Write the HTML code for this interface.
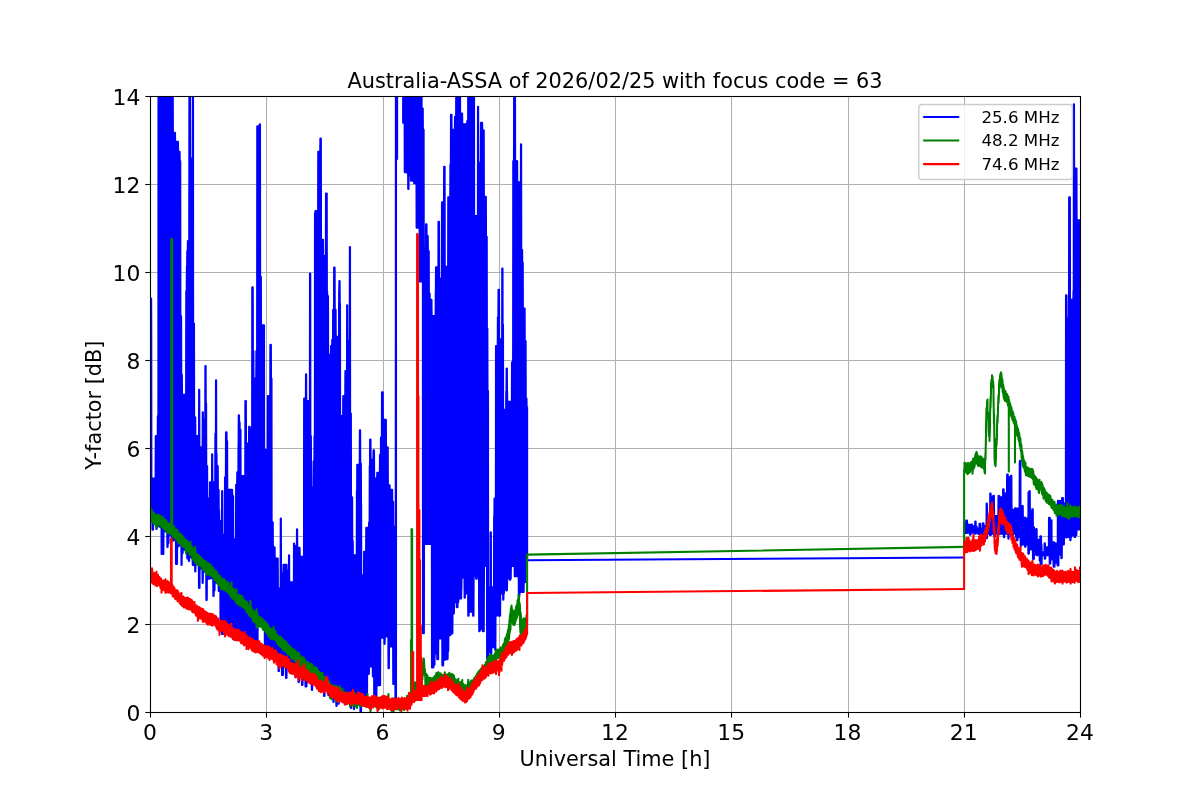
<!DOCTYPE html>
<html lang="en">
<head>
<meta charset="utf-8">
<title>Australia-ASSA of 2026/02/25 with focus code = 63</title>
<style>
html,body{margin:0;padding:0;background:#fff;}
body{width:1200px;height:800px;overflow:hidden;}
svg{display:block;}
text{font-family:"DejaVu Sans","Liberation Sans",sans-serif;fill:#000;}
.tick{font-size:21.85px;}
.lab{font-size:20.83px;}
.leg{font-size:16.67px;}
.grid line{stroke:#b0b0b0;stroke-width:1.08;}
.ticks line{stroke:#000;stroke-width:1.08;}
.series path{fill:none;stroke-width:2.08;stroke-linejoin:round;stroke-linecap:round;}
</style>
</head>
<body>
<svg width="1200" height="800" viewBox="0 0 1200 800" role="img" aria-label="Y-factor versus Universal Time">
<rect x="0" y="0" width="1200" height="800" fill="#ffffff"/>
<defs><clipPath id="ax"><rect x="150" y="96" width="930" height="616"/></clipPath></defs>
<g class="grid">
<line x1="150.5" y1="96" x2="150.5" y2="713"/>
<line x1="266.5" y1="96" x2="266.5" y2="713"/>
<line x1="383.5" y1="96" x2="383.5" y2="713"/>
<line x1="499.5" y1="96" x2="499.5" y2="713"/>
<line x1="615.5" y1="96" x2="615.5" y2="713"/>
<line x1="731.5" y1="96" x2="731.5" y2="713"/>
<line x1="848.5" y1="96" x2="848.5" y2="713"/>
<line x1="964.5" y1="96" x2="964.5" y2="713"/>
<line x1="1080.5" y1="96" x2="1080.5" y2="713"/>
<line x1="150" y1="712.5" x2="1081" y2="712.5"/>
<line x1="150" y1="624.5" x2="1081" y2="624.5"/>
<line x1="150" y1="536.5" x2="1081" y2="536.5"/>
<line x1="150" y1="448.5" x2="1081" y2="448.5"/>
<line x1="150" y1="360.5" x2="1081" y2="360.5"/>
<line x1="150" y1="272.5" x2="1081" y2="272.5"/>
<line x1="150" y1="184.5" x2="1081" y2="184.5"/>
<line x1="150" y1="96.5" x2="1081" y2="96.5"/>
</g>
<g class="series" clip-path="url(#ax)">
<g stroke="#0000ff">
<path fill="#0000ff" style="fill:#0000ff" d="M151 298.5L151.12 298.5L151.25 324.8L151.38 478.5L155.62 478.5L155.75 436L157.75 436L157.88 416L158.38 416L158.5 81L172.75 81L172.88 132.9L175 132.9L175.12 141.7L178 141.7L178.12 151.7L179.62 151.7L179.75 161L180.25 161L180.38 316L181.12 316L181.25 374.8L181.88 374.8L182 394.8L186.12 394.8L186.25 291L186.75 291L186.88 266L187.12 266L187.25 251L187.75 251L187.88 241L189.25 241L189.38 81L190 81L190.12 158.5L192.75 158.5L192.88 81L193 81L193.12 323.5L194 323.5L194.12 417.3L195.25 417.3L195.38 436L199 436L199.12 389.8L199.25 389.8L199.38 447.3L202.62 447.3L202.75 412.3L202.88 412.3L203 419.8L205.25 419.8L205.38 366L205.62 366L205.75 403.5L206.12 403.5L206.25 466L207.12 466L207.25 498.5L209.88 498.5L210 482.3L212 482.3L212.12 454.2L212.25 454.2L212.38 482.3L215.25 482.3L215.38 433.5L215.88 433.5L216 380.4L216.12 380.4L216.25 453.5L216.5 453.5L216.62 466L217.75 466L217.88 489.8L218.62 489.8L218.75 509.8L218.88 509.8L219 521L221.75 521L221.88 509.8L222 509.8L222.12 491L222.25 491L222.38 534.8L224.88 534.8L225 477.3L225.88 477.3L226 432.3L226.5 432.3L226.62 441L227.12 441L227.25 489.8L232.12 489.8L232.25 496L233.12 496L233.25 539.2L236 539.2L236.12 484.8L237.12 484.8L237.25 472.3L238.38 472.3L238.5 446L238.62 446L238.75 415.4L239 415.4L239.12 422.3L239.62 422.3L239.75 429.8L240.5 429.8L240.62 476L245.25 476L245.38 401L245.88 401L246 443.5L249 443.5L249.12 426.7L249.62 426.7L249.75 428.5L252.12 428.5L252.25 287.3L252.75 287.3L252.88 351L253.38 351L253.5 378.5L256.25 378.5L256.38 351L257.12 351L257.25 126.4L259.62 126.4L259.75 124.2L260 124.2L260.12 276.7L260.88 276.7L261 325.4L264 325.4L264.12 449.8L267.75 449.8L267.88 396L270.25 396L270.38 344.8L270.88 344.8L271 378.5L271.5 378.5L271.62 522.3L272.75 522.3L272.88 547.3L274.62 547.3L274.75 558.5L277.75 558.5L277.88 588.5L280.62 588.5L280.75 518.5L280.88 518.5L281 573.5L283.38 573.5L283.5 564.8L286.5 564.8L286.62 571L288.88 571L289 555.4L289.12 555.4L289.25 582.3L293.88 582.3L294 543.5L294.12 543.5L294.25 546L296.88 546L297 529.2L297.12 529.2L297.25 547.9L299.62 547.9L299.75 556.7L304 556.7L304.12 398.5L305.88 398.5L306 374.2L306.12 374.2L306.25 401L309.88 401L310 273.5L310.25 273.5L310.38 436L310.88 436L311 461L311.25 461L311.38 487.3L313.75 487.3L313.88 461L314.38 461L314.5 436L314.88 436L315 213.5L315.25 213.5L315.38 211L318.12 211L318.25 151.7L320.25 151.7L320.38 138.5L320.88 138.5L321 239.8L323 239.8L323.12 256L325.88 256L326 193.5L326.75 193.5L326.88 291L327.12 291L327.25 296L328 296L328.12 354.8L330.88 354.8L331 346L332.12 346L332.25 339.8L333 339.8L333.12 309.8L334 309.8L334.12 267.5L334.62 267.5L334.75 309.8L335.62 309.8L335.75 336.7L339 336.7L339.12 291L339.25 291L339.38 281L339.62 281L339.75 303.5L340 303.5L340.12 416L343.12 416L343.25 396L345.25 396L345.38 371L347 371L347.12 305.4L347.25 305.4L347.38 341L349.75 341L349.88 247L350 247L350.12 413.5L350.88 413.5L351 497.3L352.12 497.3L352.25 541L352.75 541L352.88 555.4L356.75 555.4L356.88 491L357.12 491L357.25 464.8L359.75 464.8L359.88 430.4L360.12 430.4L360.25 463.5L360.88 463.5L361 503.5L361.12 503.5L361.25 575.4L364 575.4L364.12 551.7L366.12 551.7L366.25 527.9L369 527.9L369.12 522.3L369.62 522.3L369.75 466L370 466L370.12 439.5L370.5 439.5L370.62 459.8L373.38 459.8L373.5 450.4L374 450.4L374.12 478.5L377.12 478.5L377.25 472.9L379.88 472.9L380 454.8L380.88 454.8L381 437.3L381.88 437.3L382 392.3L382.75 392.3L382.88 419.8L385.88 419.8L386 447.3L387.75 447.3L387.88 485.4L389.62 485.4L389.75 489.8L392.12 489.8L392.25 501.7L393.12 501.7L393.25 526.7L395.75 526.7L395.88 81L396 81L396 704.7L395.5 704.8L395.38 684L393.25 684L393.12 646.5L389 646.5L388.88 668.3L388.5 668.3L388.38 636.5L384.75 636.5L384.62 644L384.5 644L384.38 637.7L380.25 637.7L380.12 685.2L376.5 685.2L376.38 703.5L374.25 703.5L374.12 676.5L372.88 676.5L372.75 666.5L369 666.5L368.88 674L367.12 674L367 702.5L365.5 702.1L364 701.8L361.5 701.7L361.38 705.9L361.12 705.9L361 715L360.5 715L360.38 700.9L358.88 700.6L354.25 700.3L354.12 709L353.88 709L353.75 701.5L351.25 701.5L351.12 708L350.88 708L350.75 699.8L346 699.6L345.88 704.3L344.75 704.3L344.62 698.7L343.88 698.4L343.12 698L342.38 697.6L341.62 697.2L340.88 696.8L338.88 696.8L338.75 703.8L336.75 703.8L336.62 706L336.38 706L336.25 694.4L333.75 694.1L333.62 702L333.38 702L333.25 692.8L332.62 692.5L332 692.1L329.62 691.9L329.5 695.1L328.38 695.1L328.25 690L327.5 689.6L326.88 689.2L324.62 689.1L324.5 696L324 696L323.88 687.6L323.25 687.2L322.62 686.9L322 686.5L319.75 686.4L319.62 689.6L318.88 689.6L318.75 684.7L318.12 684.4L317.5 684L316.75 683.6L316.12 683.2L315.5 682.9L314.75 682.5L312.25 682.2L312.12 690L311.88 690L311.75 682.7L310.12 682.7L310 679.8L309.38 679.5L308.75 679.1L306.62 679L306.5 686.5L305.5 686.5L305.38 676.7L303 676.4L302.88 680L302.62 680L302.5 685L302 685L301.88 674.2L301.38 673.8L299.12 673.7L299 682L298.5 682L298.38 671.7L296.12 671.5L296 677.1L295.38 677.1L295.25 669.5L294.62 669.2L294 668.8L293.38 668.5L292.75 668.1L290.75 668.1L290.62 669.8L289.62 669.8L289.5 666.3L288.88 666L286.62 665.8L286.5 678L286 678L285.88 664.3L285.25 663.9L283.12 663.9L283 675L282 675L281.88 662.7L279.12 662.7L279 671L278.5 671L278.38 659.7L277.75 659.3L275.38 659L275.25 660.7L274.75 660.7L274.62 657.3L274 656.9L273.38 656.5L272.75 656.1L272.12 655.7L271.5 655.3L270.88 654.9L270.25 654.5L269.62 654.1L269 653.7L268.38 653.3L267.75 652.9L267.12 652.5L266.5 652.1L265.88 651.7L265.25 651.3L264.88 651L264.75 626L257.62 626L257.5 646.4L256.75 646.1L256 645.7L255.25 645.3L254.5 644.9L252.38 644.8L252.25 645.3L251.75 645.3L251.62 643.4L250.88 643L250.12 642.6L247.88 642.5L247.75 646L247.25 646L247.12 644.9L246 644.9L245.88 640.4L245.12 640L244.38 639.7L243.62 639.3L242.88 639L240.5 638.8L240.38 639.1L239.88 639.1L239.75 637.5L239 637.1L238.25 636.7L237.5 636.4L235.5 636.4L235.38 639.8L234.25 639.8L234.12 634.8L233.38 634.4L232.75 634L232.12 633.6L229.62 633.3L229.5 635.8L228.75 635.8L228.62 631.5L228 631.2L227.38 630.8L226.75 630.4L226.12 630L225.5 629.7L223.12 629.4L223 633.9L222 633.9L221.88 627.5L221.25 627.1L220.62 626.7L220.5 626.6L220.38 590.9L218.75 590.9L218.62 584.3L218.12 583.8L217.62 583.3L217.12 582.9L216.62 582.4L214.62 582.4L214.5 590.6L213.75 590.6L213.62 596L213.38 596L213.25 579.3L212.75 578.8L212.25 578.4L211.75 577.9L209.62 577.8L209.5 578.8L206.88 578.8L206.75 600L206.38 600L206.25 572.7L205.88 572.3L205.5 572L205.12 571.6L203.12 571.6L203 572.7L202.88 572.7L202.75 583L202.62 583L202.5 572.7L202.38 568.8L202 568.5L199.75 568.2L199.62 569.3L199.5 588L199 588L198.88 569.3L198.75 565.2L198.38 564.8L198 564.5L197.62 564.1L195.5 564L195.38 571.5L195.25 571.5L195.12 564.9L192.75 564.9L192.62 558.6L192.25 558.1L191.88 557.7L191.5 557.3L189.25 557L189.12 561L188.88 561L188.75 558.5L187.25 558.5L187.12 552.2L186.75 551.8L186.38 551.4L186 550.9L185.62 550.5L185.25 550.1L184.88 549.6L182.75 549.5L182.62 553.3L181.75 553.3L181.62 565L181.5 565L181.38 545.8L181 545.5L180.62 545.1L178.62 545.1L178.5 546.3L177.12 546.3L177 564L176 564L175.88 540.3L175.5 540L173.38 539.8L173.25 540.6L172 540.6L171.88 536.3L171.5 536L171.12 535.6L170.62 535.2L168.62 535.2L168.5 543.1L167.75 543.1L167.62 547L167.38 547L167.25 532.5L166.75 532.1L166.25 531.7L165.75 531.3L163.5 531.1L163.38 554L161.62 554L161.5 527.9L161 527.5L160.38 527L159.75 526.6L159.12 526.2L156.75 525.9L156.62 528.9L156.38 528.9L156.25 524.2L155.62 523.8L153.12 523.4L153 529.8L152.5 529.8L152.38 521.6L151.75 521.1L151 521ZM403.12 81L421.5 81L421.62 108.5L422.75 108.5L422.88 129.8L423.62 129.8L423.75 248.5L425.88 248.5L426 224.2L426.5 224.2L426.62 236L427.75 236L427.88 251L428.75 251L428.88 293.5L429.62 293.5L429.75 299.8L431.5 299.8L431.62 316L435.62 316L435.75 291L435.88 291L436 267.3L438.38 267.3L438.5 221.7L439 221.7L439.12 278.5L441.88 278.5L442 202.3L444 202.3L444.12 166.7L444.62 166.7L444.75 266.7L448.12 266.7L448.25 197.3L450.25 197.3L450.38 164.8L450.88 164.8L451 114.8L451.5 114.8L451.62 129.8L454.88 129.8L455 116.7L456.12 116.7L456.25 81L460 81L460.12 113.5L462.12 113.5L462.25 124.2L467.12 124.2L467.25 121L468.12 121L468.25 81L474 81L474.12 216L477.88 216L478 106.7L478.12 106.7L478.25 162.9L480.88 162.9L481 122.9L482.12 122.9L482.25 130.4L483.75 130.4L483.88 196.7L485.88 196.7L486 236.7L486.75 236.7L486.88 328.5L487.38 328.5L487.5 391L488 391L488.12 587.3L490.5 587.3L490.62 532.3L490.88 532.3L491 587.3L494 587.3L494.12 516L494.38 516L494.5 498.5L495.88 498.5L496 346L497.75 346L497.88 317.3L498.38 317.3L498.5 289.8L499 289.8L499.12 339.2L502.12 339.2L502.25 268.5L502.5 268.5L502.62 324.8L503 324.8L503.12 409.8L506.12 409.8L506.25 391L506.5 391L506.62 368.5L506.88 368.5L507 391L507.12 391L507.25 401.7L511.88 401.7L512 362.3L513.12 362.3L513.25 161L514 161L514.12 81L515 81L515.12 161L517.12 161L517.25 182.3L520.88 182.3L521 144.2L521.12 144.2L521.25 249.8L522.12 249.8L522.25 262.9L522.75 262.9L522.88 308.5L524.62 308.5L524.75 341L525.62 341L525.75 398.5L526.5 398.5L526.62 407.3L527.12 407.3L527.12 561L525.25 561L525.12 582.2L523.75 582.2L523.62 591.9L519.5 591.6L519.38 596.2L518.88 596.2L518.75 576L514.75 576.3L514.62 566L510.88 566L510.75 578.5L510.38 578.5L510.25 579.8L509.88 579.8L509.75 578.5L507.12 578.5L507 588.5L506.88 590.4L506.25 590.4L506.12 588.5L504 588.5L503.88 593.5L503.5 593.5L503.38 599.7L503.25 599.7L503.12 593.5L500.25 593.5L500.12 615.7L495.5 615.3L495.38 649.7L495.25 649.7L495.12 647.2L491.38 647.2L491.25 655.7L490.88 655.7L490.75 652.2L488.12 652.2L488 658.8L487.12 658.8L487 566L484 566L483.88 594.7L483.75 631.2L482.88 631.2L482.75 629.1L479.75 629.1L479.62 631.3L479.25 631.3L479.12 612.2L479 576L476.88 576L476.75 578.8L476.12 578.8L476 576L473.62 576L473.5 615.8L473 615.8L472.88 611.6L468.75 611.6L468.62 615.8L468.25 615.8L468.12 593.5L465 593.5L464.88 597.7L464.62 597.7L464.5 577.8L461.5 577.8L461.38 589.7L461.25 589.7L461.12 598.5L458.38 598.5L458.25 602.2L457.62 602.2L457.5 607.3L456.75 607.3L456.62 602.2L454 602.2L453.88 613.5L452.5 613.5L452.38 633.5L450.5 633.5L450.38 635.2L448.38 635.2L448.25 651L447.75 651L447.62 659.1L445.25 659.1L445.12 659.7L443.25 659.7L443.12 665.4L442.38 665.4L442.25 638.5L438.25 638.5L438.12 659.3L437.25 659.3L437.12 653.5L434.62 653.5L434.5 664.7L433.5 664.7L433.38 667.5L432 667.5L431.88 544L424 544L423.88 633.3L423 633.3L422.88 281.5L419.75 281.5L419.62 227.7L416.62 227.7L416.5 183.3L414.12 183.3L414 180.8L411 180.8L410.88 175.2L408.62 175.2L408.5 189L408.25 189L408.12 174L407.88 174L407.75 172.1L404.75 172.1L404.62 122.7L403.12 122.7ZM964.5 522.3L966.12 522.3L966.25 520.6L967 520.6L967.12 524.8L971.12 524.8L971.25 524.6L972 524.6L972.12 526.3L975.12 526.3L975.25 521.5L975.62 521.5L975.75 526.3L976.5 526.3L976.62 528.5L979.38 528.5L979.5 523.9L980.38 523.9L980.5 528.5L982.88 528.5L983 523.4L983.5 523.4L983.62 526L986.5 526L986.62 503.6L986.88 503.6L987 508.5L987.12 508.5L987.25 518.5L990.12 518.5L990.25 493.6L990.62 493.6L990.75 497.3L993.12 497.3L993.25 495.8L993.88 495.8L994 508.5L994.12 516L998.38 516L998.5 496.1L999.38 496.1L999.5 497.3L1003 497.3L1003.12 489.3L1003.62 489.3L1003.75 493.5L1007 493.5L1007.12 474.5L1007.75 474.5L1007.88 477.3L1010.75 477.3L1010.88 475.8L1011.38 475.8L1011.5 501L1011.62 509.8L1014.88 509.8L1015 508.3L1015.88 508.3L1016 508.5L1019.62 508.5L1019.75 461.7L1019.88 461.7L1020 460.8L1020.38 460.8L1020.5 506L1022.75 506L1022.88 518.5L1024.88 518.5L1025 517.5L1025.25 517.5L1025.38 518.5L1028.38 518.5L1028.5 492.3L1029.38 492.3L1029.5 491L1029.75 491L1029.88 512.3L1032.12 512.3L1032.25 509.2L1032.75 509.2L1032.88 527.3L1034 527.3L1034.12 529.8L1036.12 529.8L1036.25 529L1036.62 529L1036.75 539.8L1040.25 539.8L1040.38 536.4L1041 536.4L1041.12 544.8L1041.5 544.8L1041.62 552.3L1044.5 552.3L1044.62 543.2L1044.88 543.2L1045 547.3L1048.88 547.3L1049 517.9L1049.75 517.9L1049.88 520.4L1051.5 520.4L1051.62 542.3L1054.25 542.3L1054.38 543.5L1057.75 543.5L1057.88 500.9L1058.12 500.9L1058.25 501L1062 501L1062.12 498.1L1063 498.1L1063.12 503.5L1065.88 503.5L1066 295.4L1066.5 295.4L1066.62 318.5L1069 318.5L1069.12 197.3L1069.88 197.3L1070 299.8L1073.38 299.8L1073.5 291L1073.75 291L1073.88 104.2L1074 104.2L1074.12 168.5L1076.5 168.5L1076.62 220.4L1079.62 220.4L1079.62 529.5L1076.5 529.5L1076.38 535.1L1075.38 535.1L1075.25 537L1074.5 537L1074.38 535.1L1071.5 535.1L1071.38 537L1070.62 537L1070.5 540.3L1070.25 540.3L1070.12 537L1066.88 537L1066.75 537.4L1066.12 537.4L1066 537L1064 537L1063.88 544.5L1061.88 544.5L1061.75 558.1L1061.38 558.1L1061.25 554.5L1058.5 554.5L1058.38 565.4L1057.62 565.4L1057.5 562.6L1054.62 562.6L1054.5 566.7L1053.62 566.7L1053.5 559.5L1050.38 559.5L1050.25 563.6L1049.75 563.6L1049.62 555.1L1045.38 555.1L1045.25 558.6L1044.75 558.6L1044.62 555.1L1041.75 555.1L1041.62 564.1L1040.62 564.1L1040.5 560.7L1039.75 560.7L1039.62 554.5L1037.62 554.5L1037.5 555.2L1037 555.2L1036.88 554.5L1034 554.5L1033.88 559L1033 559L1032.88 549.5L1029 549.5L1028.88 553.8L1028.38 553.8L1028.25 544.5L1025.62 544.5L1025.5 546.6L1025 546.6L1024.88 544.5L1021 544.5L1020.88 546.2L1020.75 546.2L1020.62 537L1017.62 537L1017.5 540.2L1016.75 540.2L1016.62 537L1016 537L1015.88 533.8L1012.88 533.8L1012.75 538.8L1012.25 538.8L1012.12 533.8L1008.75 533.8L1008.62 538.8L1008.38 538.8L1008.25 533.8L1004.38 533.8L1004.25 537.1L1003.88 537.1L1003.75 533.8L999.75 533.8L999.62 534.2L999.12 534.2L999 533.8L995.12 533.8L995 536.4L994.12 536.4L994 533.8L991 533.8L990.88 534.9L989.88 534.9L989.75 533.8L987.12 533.8L987 538.1L986.62 538.1L986.5 533.8L984 533.8L983.88 535.8L983.5 535.8L983.38 533.8L978.38 534L978.25 532.6L975.62 532.6L975.5 533.8L975 533.8L974.88 532.6L970.75 532.6L970.62 534.6L970 534.6L969.88 532.6L967.25 532.6L967.12 533L964.5 533ZM396.04 80L397.08 80L397.08 159L396.04 159Z"/>
<path stroke-linecap="butt" d="M527.2 560.3L964.1 557.5"/>
</g>
<g stroke="#008000">
<path d="M150.5 508.4L150.5 517.6L151 516.7L151 508.3L151.5 510.5L151.5 517.8L152 520.2L152 510.9L152.5 512.2L152.5 520.7L153 522.4L153 512.9L153.5 512.7L153.5 522.2L154 524.1L154 513.5L154.5 514L154.5 523.2L155 523.6L155 515.8L155.5 515.7L155.5 525L156 523.8L156 517.1L156.5 515.3L156.5 527.9L157 524.3L157 517L157.5 517.1L157.5 524.1L158 524L158 515L158.5 514.9L158.5 522.8L159 523.3L159 516.5L159.5 515.6L159.5 525.4L160 524.3L160 516L160.5 517.8L160.5 525.6L161 526.2L161 516.5L161.5 516.3L161.5 524.7L162 527L162 518.7L162.5 517L162.5 526L163 527.6L163 519.5L163.5 518.7L163.5 527L164 529.3L164 518.7L164.5 519.9L164.5 528.2L165 529.5L165 521.4L165.5 522.9L165.5 530.7L166 530.2L166 520.4L166.5 522.2L166.5 529L167 529.8L167 523.3L167.5 523.7L167.5 533.3L168 532.3L168 523.5L168.5 524.6L168.5 531.3L169 532.2L169 525.6L169.5 523.5L169.5 531.2L170 533.8L170 523.6L170.5 524.4L170.5 532.7L171 534.3L171 526.8L171.5 526.7L171.5 534.5L172 533.3L172 527.3L172.5 526.9L172.5 533.4L173 536.5L173 527.4L173.5 526L173.5 536.4L174 535.6L174 527.3L174.5 527.8L174.5 535L175 537.9L175 529.1L175.5 530.1L175.5 536.9L176 539.5L176 529.4L176.5 531.7L176.5 538.2L177 538.8L177 530L177.5 530.6L177.5 539.4L178 542.4L178 532L178.5 533.7L178.5 540.8L179 541.6L179 534.5L179.5 533.6L179.5 543.2L180 543.1L180 535.6L180.5 534.1L180.5 544.2L181 543.5L181 536.5L181.5 535.9L181.5 543.9L182 546.1L182 535.4L182.5 538L182.5 544.7L183 545.5L183 538.7L183.5 537.2L183.5 547.1L184 547L184 539.7L184.5 539.9L184.5 546.2L185 547.1L185 539.4L185.5 541L185.5 547.3L186 553.4L186 541.6L186.5 540.2L186.5 548.2L187 548.6L187 541.8L187.5 541.3L187.5 551.2L188 550.8L188 542.1L188.5 545.1L188.5 550.9L189 551.6L189 543.9L189.5 544.2L189.5 554.6L190 552.9L190 546L190.5 541.6L190.5 554.5L191 553.8L191 547.9L191.5 546.4L191.5 555.4L192 556.3L192 546.4L192.5 549.8L192.5 559.4L193 559L193 549.5L193.5 549.3L193.5 558.8L194 560.3L194 552.6L194.5 553.2L194.5 559.6L195 561.9L195 546.8L195.5 552.6L195.5 561.3L196 563.4L196 553.6L196.5 554L196.5 563.8L197 562.8L197 554.3L197.5 556.3L197.5 563.6L198 565.3L198 554.6L198.5 555.3L198.5 564.5L199 565.5L199 556.6L199.5 556.2L199.5 565.6L200 565.1L200 557.3L200.5 557.7L200.5 564.8L201 566.3L201 557.4L201.5 560.2L201.5 566.7L202 567L202 560.1L202.5 559.3L202.5 569.6L203 569L203 559.9L203.5 560L203.5 569.4L204 568.8L204 560.8L204.5 561.1L204.5 570.6L205 569L205 560.9L205.5 561.8L205.5 571.9L206 570.4L206 562.3L206.5 562L206.5 571.2L207 574.8L207 563.4L207.5 564.6L207.5 570.6L208 573.7L208 564.6L208.5 563.3L208.5 573.3L209 574.7L209 565L209.5 565.9L209.5 573.2L210 574.1L210 564.4L210.5 567.2L210.5 575.5L211 575.1L211 565.7L211.5 566L211.5 575.7L212 574.8L212 568.7L212.5 570.1L212.5 576.8L213 577.4L213 567.7L213.5 569.3L213.5 577.1L214 578.4L214 571L214.5 570.3L214.5 580.3L215 578.2L215 570.3L215.5 571.6L215.5 578.9L216 580.7L216 573.4L216.5 571.2L216.5 581.2L217 582.1L217 574.3L217.5 573.3L217.5 583.8L218 582L218 575.9L218.5 575.1L218.5 584.3L219 585.2L219 577.2L219.5 576L219.5 584.1L220 585L220 578.3L220.5 576.5L220.5 584.3L221 589.1L221 578.2L221.5 578.9L221.5 588L222 588.1L222 579.8L222.5 579.7L222.5 589.2L223 589.5L223 580.7L223.5 579.1L223.5 587.2L224 587.8L224 579.7L224.5 579.6L224.5 590L225 590.2L225 580.9L225.5 581.3L225.5 590.5L226 590.7L226 582.1L226.5 583.4L226.5 589.4L227 591.5L227 582.7L227.5 582.2L227.5 591.6L228 591.9L228 583.7L228.5 583L228.5 593.3L229 592.8L229 586.7L229.5 587.1L229.5 594L230 593.3L230 586.9L230.5 586.4L230.5 596.6L231 596.7L231 585.9L231.5 582.3L231.5 597.3L232 597.8L232 587.9L232.5 589.1L232.5 598.2L233 598.5L233 589.7L233.5 588.7L233.5 599.2L234 597.2L234 589.9L234.5 590.3L234.5 598.4L235 598.5L235 590.2L235.5 592.1L235.5 601.4L236 599.8L236 592.3L236.5 589.2L236.5 602.5L237 603.6L237 594.9L237.5 595.6L237.5 601.7L238 604L238 596.6L238.5 595.4L238.5 603.3L239 605.1L239 595L239.5 595.2L239.5 603.7L240 605.5L240 595.2L240.5 597.3L240.5 603.6L241 603.7L241 597.8L241.5 595.9L241.5 605.3L242 606.6L242 596L242.5 597.6L242.5 604.3L243 606.4L243 599.6L243.5 599.2L243.5 607.7L244 607.2L244 600.2L244.5 600.8L244.5 607.6L245 608.3L245 602.3L245.5 602L245.5 609.3L246 610L246 601.6L246.5 603.1L246.5 611.9L247 610.5L247 602.3L247.5 604.7L247.5 612.7L248 611.7L248 606L248.5 606.1L248.5 612.4L249 615.5L249 606.3L249.5 605.6L249.5 615.5L250 615.7L250 606.6L250.5 600.9L250.5 616.2L251 617L251 607L251.5 609.2L251.5 616.5L252 617.4L252 610.3L252.5 611.1L252.5 618.3L253 621.4L253 610.2L253.5 610.8L253.5 617.9L254 619.7L254 612.7L254.5 612.4L254.5 622.1L255 620.9L255 611.9L255.5 614.8L255.5 622.5L256 621.5L256 613.7L256.5 609.3L256.5 627.8L257 623.3L257 614.4L257.5 613.6L257.5 623.1L258 622.3L258 616.8L258.5 616.6L258.5 625.4L259 623.9L259 617.6L259.5 617.7L259.5 624.1L260 626.6L260 618L260.5 617.3L260.5 626.8L261 626.7L261 617.7L261.5 618.5L261.5 626.6L262 627.1L262 619.8L262.5 619.3L262.5 628.3L263 629.6L263 620L263.5 620.1L263.5 629.1L264 630L264 620.8L264.5 621.8L264.5 630.2L265 630.5L265 623.9L265.5 622L265.5 631L266 632.1L266 623.8L266.5 623.2L266.5 632.9L267 632.4L267 626.5L267.5 626.6L267.5 633.2L268 634.4L268 624.9L268.5 627.8L268.5 636.4L269 635.6L269 628.1L269.5 627.9L269.5 635.3L270 636.5L270 629.7L270.5 631.2L270.5 638.9L271 637.4L271 628.7L271.5 631L271.5 637.6L272 638.6L272 630L272.5 630.9L272.5 639.1L273 638.3L273 630.7L273.5 627L273.5 638.4L274 638.8L274 630.1L274.5 631.1L274.5 639.4L275 639.8L275 632.3L275.5 631.5L275.5 639.5L276 640.8L276 634L276.5 634.6L276.5 640.1L277 641.8L277 635L277.5 635.8L277.5 643.9L278 642L278 636.8L278.5 636.5L278.5 643.7L279 645.1L279 636.8L279.5 637.7L279.5 644.3L280 646.5L280 636.3L280.5 639.3L280.5 647L281 647.1L281 637.1L281.5 640.4L281.5 646.2L282 648.2L282 639.3L282.5 638.8L282.5 649L283 647.5L283 640.1L283.5 641.7L283.5 649.8L284 650.9L284 640.3L284.5 643L284.5 650.3L285 649.9L285 642.1L285.5 641.3L285.5 649.4L286 651.5L286 642.4L286.5 642.3L286.5 651.4L287 652.7L287 644.1L287.5 644.9L287.5 653.8L288 652.2L288 644.6L288.5 647.2L288.5 654.8L289 653.7L289 645.9L289.5 648.2L289.5 654.9L290 654.9L290 646.5L290.5 650.1L290.5 655.3L291 657.1L291 647.6L291.5 650.4L291.5 657.6L292 659.1L292 650.1L292.5 651.4L292.5 658.4L293 657.5L293 648.9L293.5 650.4L293.5 658L294 658.3L294 652.5L294.5 650.4L294.5 660.7L295 659.7L295 650.5L295.5 653.2L295.5 658.9L296 661.9L296 652.8L296.5 653.3L296.5 660.5L297 662.6L297 652.5L297.5 652.4L297.5 662.1L298 662.7L298 652.7L298.5 654.9L298.5 664.9L299 664L299 653.4L299.5 655.2L299.5 662.4L300 663.9L300 656.7L300.5 656.1L300.5 665.8L301 663.4L301 657.7L301.5 657.9L301.5 664L302 665.4L302 659.1L302.5 659.4L302.5 666.1L303 667.3L303 659.9L303.5 656.8L303.5 667.6L304 669.5L304 659.3L304.5 659L304.5 668.5L305 668.6L305 659.9L305.5 662.4L305.5 670.8L306 670.2L306 663.5L306.5 662.4L306.5 671.5L307 669.7L307 663.4L307.5 662.4L307.5 672.5L308 672.2L308 662.4L308.5 662.5L308.5 671.9L309 673.7L309 664.1L309.5 665.1L309.5 671.2L310 672L310 664.2L310.5 664.6L310.5 676.3L311 672.6L311 663.8L311.5 666.7L311.5 674.2L312 672.7L312 664.9L312.5 665L312.5 674.8L313 673.9L313 667.1L313.5 667.5L313.5 674L314 675.6L314 668.1L314.5 667L314.5 676.2L315 677.2L315 668.3L315.5 669.2L315.5 676.6L316 677.8L316 667.5L316.5 668.6L316.5 678.9L317 677.6L317 668.5L317.5 670.5L317.5 677.6L318 678.7L318 670.8L318.5 672.2L318.5 678.9L319 680.6L319 671.5L319.5 673.8L319.5 681.2L320 682.1L320 673.3L320.5 674.1L320.5 681.4L321 682.7L321 672.9L321.5 675.1L321.5 683L322 684.4L322 674.8L322.5 673.1L322.5 683.4L323 683.2L323 676L323.5 676.7L323.5 685.5L324 685.9L324 678.1L324.5 678.5L324.5 687.1L325 684.8L325 677.4L325.5 678.6L325.5 686.7L326 687.3L326 678.1L326.5 679.4L326.5 687.5L327 688L327 681.6L327.5 681.4L327.5 687.5L328 689.2L328 680.8L328.5 682.7L328.5 691.6L329 692.1L329 681.3L329.5 683.6L329.5 690.5L330 697.9L330 684.1L330.5 686.2L330.5 693.6L331 692.2L331 686L331.5 685.4L331.5 699.2L332 695.2L332 685.5L332.5 685.6L332.5 694.6L333 696.3L333 687.2L333.5 685.6L333.5 695.7L334 694.1L334 686.9L334.5 688.7L334.5 694.1L335 695.6L335 687.1L335.5 686L335.5 696.2L336 701.1L336 688.6L336.5 686.2L336.5 694.6L337 694.7L337 687.8L337.5 688.8L337.5 696.1L338 698.2L338 687L338.5 688.9L338.5 696.4L339 695L339 688.2L339.5 686.3L339.5 696.8L340 696.5L340 689.4L340.5 688.5L340.5 698L341 698.8L341 688.4L341.5 690.1L341.5 696.6L342 699.2L342 689.5L342.5 689.4L342.5 699.5L343 698.2L343 692.5L343.5 692.7L343.5 700L344 699.8L344 691.8L344.5 692.9L344.5 699.3L345 702.2L345 694.1L345.5 692.2L345.5 702.2L346 702L346 694.4L346.5 693.6L346.5 702.5L347 701.2L347 693.2L347.5 693.1L347.5 701.8L348 701.1L348 693.1L348.5 693.7L348.5 702.1L349 700.8L349 693.8L349.5 694.5L349.5 702.4L350 706.5L350 695.6L350.5 695.3L350.5 703.4L351 702.7L351 694L351.5 695.6L351.5 703L352 703.8L352 694.9L352.5 694.5L352.5 705.3L353 704.7L353 697.5L353.5 697L353.5 704L354 705.3L354 698L354.5 698.1L354.5 706.2L355 706.4L355 693L355.5 698.3L355.5 704.1L356 706.3L356 697L356.5 696.2L356.5 705.1L357 707.9L357 696.9L357.5 695.6L357.5 705.9L358 703.2L358 696.7L358.5 695L358.5 704.5L359 703.4L359 697.6L359.5 696.6L359.5 704.3L360 703.3L360 696.8L360.5 696.4L360.5 705.9L361 705.9L361 697.4L361.5 696.6L361.5 703.8L362 705.2L362 697.4L362.5 697.8L362.5 705.1L363 704.5L363 696.3L363.5 696.8L363.5 705.5L364 704.9L364 696.7L364.5 697.3L364.5 706L365 705.1L365 698.6L365.5 699.5L365.5 705L366 706.6L366 699.5L366.5 696.8L366.5 707L367 705.3L367 696.7L367.5 694.1L367.5 704.9L368 705.3L368 697.4L368.5 698.9L368.5 706L369 707.8L369 698.2L369.5 698.1L369.5 706.3L370 708.2L370 699.7L370.5 698.6L370.5 711.5L371 705.3L371 697.8L371.5 699.9L371.5 706.1L372 706.3L372 698.2L372.5 698L372.5 706.6L373 707.1L373 698L373.5 697.2L373.5 705.5L374 705.4L374 698.5L374.5 696.9L374.5 705.5L375 705.4L375 699.3L375.5 698.6L375.5 706.6L376 706.9L376 698.8L376.5 698.4L376.5 707.5L377 706.5L377 699.4L377.5 697.5L377.5 708.2L378 709.3L378 701.5L378.5 699L378.5 709.8L379 707.5L379 700.8L379.5 699.5L379.5 706.3L380 706.6L380 698.6L380.5 697.8L380.5 706.1L381 705.7L381 698.9L381.5 698.7L381.5 705.1L382 704.9L382 697.3L382.5 696.4L382.5 707.6L383 707.6L383 699.4L383.5 697.4L383.5 705L384 705.4L384 699.3L384.5 699.2L384.5 705.2L385 706.7L385 699L385.5 700.3L385.5 705.8L386 706.5L386 698.4L386.5 700.1L386.5 705.8L387 706.2L387 699.9L387.5 699.7L387.5 706.5L388 707.1L388 698.1L388.5 694.1L388.5 706.3L389 707.5L389 699.2L389.5 700.1L389.5 708L390 707.4L390 700.3L390.5 701.7L390.5 709.3L391 708.4L391 699.8L391.5 699.8L391.5 708.9L392 712.5L392 699.9L392.5 701.1L392.5 709.3L393 709.2L393 700.3L393.5 700.4L393.5 712L394 707.5L394 700.3L394.5 698.4L394.5 706.3L395 708.2L395 700.6L395.5 699.5L395.5 709.1L396 709.3L396 699L396.5 701L396.5 707.5L397 708.1L397 701.3L397.5 699.9L397.5 708.6L398 708.7L398 702.5L398.5 700.6L398.5 708.5L399 709.7L399 702.5L399.5 700.5L399.5 710.1L400 710.5L400 701.4L400.5 699.7L400.5 710.6L401 708.3L401 700.1L401.5 700.2L401.5 708.4L402 708.4L402 699.5L402.5 700.8L402.5 708.3L403 709L403 699.5L403.5 702L403.5 708.3L404 710L404 699.4L404.5 701.7L404.5 708.9L405 708L405 700.5L405.5 699.8L405.5 707.2L406 708.7L406 701.2L406.5 698.7L406.5 707.9L407 709L407 695.8L407.5 699.3L407.5 706.4L408 708.2L408 697.9L408.5 699.1L408.5 706.8L409 707.6L409 693.1L409.5 699.7L409.5 705.6L410 706.7L410 698.8"/>
<path d="M413.3 683L413.3 691L413.8 690.4L413.8 682.7L414.3 682.6L414.3 692.2L414.8 690.8L414.8 682.6L415.3 683.9L415.3 690.9L415.8 691.6L415.8 684L416.3 682L416.3 690.3L416.8 690.1L416.8 682.6L417.3 683.5L417.3 690.5L417.8 691.4L417.8 682.2L418.3 682.8L418.3 689.6L418.8 689.7L418.8 682L419.3 683.1L419.3 690.3L419.8 691.7L419.8 682.2L420.3 681.8L420.3 689.9L420.8 690.2L420.8 683.8L421.3 683.6L421.3 691.5L421.8 686.9L421.8 679.5L422.3 673.5L422.3 679.7L422.8 672.4L422.8 665.4L423.3 661.2L423.3 667.6L423.8 665.6L423.8 658.6L424.3 664.6L424.3 670.1L424.8 675.3L424.8 669.1L425.3 674L425.3 681.6L425.8 687.3L425.8 677.6L426.3 674.1L426.3 686.3L426.8 685.5L426.8 679.2L427.3 675.3L427.3 687.3L427.8 684.8L427.8 679.2L428.3 678.5L428.3 686.1L428.8 689.1L428.8 678L429.3 677.5L429.3 685.6L429.8 687.2L429.8 679.1L430.3 678L430.3 684.8L430.8 685.1L430.8 679.3L431.3 678.3L431.3 687.5L431.8 687.7L431.8 679.4L432.3 678.3L432.3 686.8L432.8 686.1L432.8 680.4L433.3 678.2L433.3 685.8L433.8 687L433.8 677.3L434.3 678.5L434.3 683.7L434.8 685.7L434.8 675.9L435.3 675.7L435.3 682.5L435.8 682L435.8 675.9L436.3 673.2L436.3 683L436.8 682.4L436.8 672.8L437.3 673.3L437.3 679.6L437.8 680.7L437.8 672.8L438.3 672.2L438.3 679.8L438.8 680.1L438.8 674.8L439.3 673.5L439.3 680.8L439.8 687L439.8 673.3L440.3 674.8L440.3 680.6L440.8 682.2L440.8 673.5L441.3 676.4L441.3 682.3L441.8 683.6L441.8 676.6L442.3 675.6L442.3 683.1L442.8 682.6L442.8 675.1L443.3 676.5L443.3 683.7L443.8 683.6L443.8 674.8L444.3 676.5L444.3 681.4L444.8 683L444.8 672.2L445.3 675.1L445.3 682.4L445.8 682.8L445.8 675.5L446.3 675L446.3 682.4L446.8 681.7L446.8 675.5L447.3 675.5L447.3 682.5L447.8 682.9L447.8 674.3L448.3 675.4L448.3 680.5L448.8 680.7L448.8 675.2L449.3 672.7L449.3 681.9L449.8 682.5L449.8 674.4L450.3 674.3L450.3 682.6L450.8 682.8L450.8 675.4L451.3 676L451.3 682.6L451.8 682.9L451.8 673.7L452.3 676.5L452.3 683.6L452.8 683.3L452.8 674.7L453.3 677.6L453.3 683.1L453.8 684L453.8 675.3L454.3 678.3L454.3 683.9L454.8 684.8L454.8 678.9L455.3 680.3L455.3 686.4L455.8 688.3L455.8 679.5L456.3 680L456.3 688.3L456.8 690.1L456.8 681.6L457.3 682.3L457.3 691.4L457.8 691L457.8 683L458.3 678.8L458.3 691.7L458.8 690.1L458.8 683.7L459.3 682.5L459.3 691.1L459.8 690.4L459.8 683.8L460.3 682.3L460.3 689.6L460.8 689.7L460.8 683.4L461.3 681.9L461.3 689.3L461.8 692.1L461.8 683.3L462.3 680L462.3 692.4L462.8 692.7L462.8 683.5L463.3 684.3L463.3 693.8L463.8 693.1L463.8 684.6L464.3 686.1L464.3 694.5L464.8 694L464.8 688L465.3 685L465.3 696.2L465.8 695.4L465.8 687.8L466.3 686.3L466.3 692.5L466.8 697.1L466.8 685.6L467.3 685.9L467.3 692L467.8 692.1L467.8 685.4L468.3 679.7L468.3 690.2L468.8 690.4L468.8 683.3L469.3 682.5L469.3 689.3L469.8 689.4L469.8 682.6L470.3 682.2L470.3 690.6L470.8 691.5L470.8 683.2L471.3 680.5L471.3 690.6L471.8 693.5L471.8 681.2L472.3 681.5L472.3 688.9L472.8 686.9L472.8 681L473.3 679.8L473.3 687.1L473.8 686.5L473.8 679.6L474.3 678L474.3 686.3L474.8 686.5L474.8 677.6L475.3 677.5L475.3 684.4L475.8 684.9L475.8 676.8L476.3 675.2L476.3 683.5L476.8 683.2L476.8 675.2L477.3 673.6L477.3 679.9L477.8 679.9L477.8 673.1L478.3 672L478.3 679.7L478.8 680.4L478.8 672L479.3 670.6L479.3 678.1L479.8 677.7L479.8 670.9L480.3 671.6L480.3 676.7L480.8 677.4L480.8 669.1L481.3 669.6L481.3 676.3L481.8 677.7L481.8 667.8L482.3 667.6L482.3 675.7L482.8 675.9L482.8 667.1L483.3 666.1L483.3 673.5L483.8 674.1L483.8 666.7L484.3 666.4L484.3 672.5L484.8 673.2L484.8 664.9L485.3 664.9L485.3 672L485.8 670.4L485.8 662.3L486.3 663.4L486.3 668.8L486.8 673.3L486.8 662.6L487.3 659.7L487.3 668.3L487.8 667.9L487.8 657.8L488.3 657.7L488.3 665.1L488.8 663.3L488.8 656.8L489.3 657.3L489.3 664.4L489.8 666L489.8 656.8L490.3 654.8L490.3 661.9L490.8 663.2L490.8 654.6L491.3 656.3L491.3 663.2L491.8 662.2L491.8 656.4L492.3 656.1L492.3 663.1L492.8 663.3L492.8 656.7L493.3 655.9L493.3 661.6L493.8 662L493.8 655.7L494.3 654.8L494.3 662.2L494.8 662.2L494.8 653.7L495.3 653.1L495.3 659L495.8 659.6L495.8 650.7L496.3 651.1L496.3 659.8L496.8 657.1L496.8 649.7L497.3 649.6L497.3 658.2L497.8 656.2L497.8 650L498.3 650.3L498.3 657.1L498.8 657.8L498.8 649.7L499.3 650.3L499.3 655.2L499.8 656.1L499.8 649.4L500.3 648.2L500.3 656.7L500.8 656.2L500.8 647.6L501.3 648L501.3 655.8L501.8 654.3L501.8 647.6L502.3 647L502.3 653.1L502.8 654L502.8 645.9L503.3 644.2L503.3 651.9L503.8 651.5L503.8 644.4L504.3 642.9L504.3 650.7L504.8 648.9L504.8 639.5L505.3 638.2L505.3 645.8L505.8 644.6L505.8 637.7L506.3 637.5L506.3 644.6L506.8 642.8L506.8 637L507.3 634L507.3 641.8L507.8 641.2L507.8 633.9L508.3 631.7L508.3 639.5L508.8 637.5L508.8 631.4L509.3 625.3L509.3 632.8L509.8 629.2L509.8 620.5L510.3 616.2L510.3 623.7L510.8 619.7L510.8 612L511.3 610.5L511.3 617.4L511.8 617.9L511.8 609.6L512.3 611.2L512.3 620.1L512.8 620.7L512.8 613.4L513.3 614.9L513.3 621.2L513.8 622.3L513.8 613.8L514.3 614.5L514.3 622.6L514.8 621.7L514.8 616.8L515.3 615.9L515.3 621L515.8 618.8L515.8 612L516.3 607.4L516.3 617.4L516.8 617.5L516.8 608.4L517.3 607L517.3 615.3L517.8 612.8L517.8 604.9L518.3 601.4L518.3 610.3L518.8 606.5L518.8 598.8L519.3 604.2L519.3 610.6L519.8 617.1L519.8 608.9L520.3 615.5L520.3 620.7L520.8 628.7L520.8 618.3L521.3 625.2L521.3 634L521.8 633.2L521.8 624.7L522.3 619.8L522.3 632.2L522.8 632.9L522.8 623.4L523.3 622.3L523.3 631.8L523.8 629.3L523.8 621.7L524.3 621.4L524.3 629.3L524.8 630.2L524.8 620.6L525.3 621.7L525.3 628.7L525.8 626.3L525.8 619.9L526.3 618L526.3 626.9L526.8 625.3L526.8 618"/>
<path d="M506 640.7L506 647.8L506.5 648.6L506.5 637.6L507 634.4L507 646.6L507.5 643.4L507.5 634.4L508 630.1L508 643L508.5 639.6L508.5 630.3L509 624.9L509 638.6L509.5 630.9L509.5 623.1L510 615.3L510 626.7L510.5 629.4L510.5 615.3L511 607.7L511 619.3L511.5 618.3L511.5 605.5L512 610.8L512 620.3L512.5 622.6L512.5 609.8L513 611.6L513 623.8L513.5 624.9L513.5 611.7L514 611.3L514 625.1L514.5 624.4L514.5 611.6L515 611.9L515 623.5L515.5 620.1L515.5 611.9L516 606.7L516 619.3L516.5 618.6L516.5 606.9L517 604.5L517 615.5L517.5 612.4L517.5 600.3L518 599.9L518 610.3L518.5 605.8L518.5 595.1L519 596.4L519 607.6L519.5 613.7L519.5 603.2L520 606.1L520 625.4L520.5 632.9L520.5 612.4L521 617.4L521 632L521.5 636.5L521.5 624.1L522 622.3L522 633.7L522.5 631.7L522.5 623.1L523 619.3L523 633.2L523.5 632.2L523.5 620.9L524 618.2L524 632.6L524.5 630.3L524.5 619.6L525 619.7L525 631.1L525.5 628.5L525.5 618.7L526 618.9L526 628.1L526.5 627L526.5 615.3"/>
<path d="M964.5 462.9L964.5 471.3L965 471.7L965 462.8L965.5 464L965.5 471.4L966 472.2L966 464.6L966.5 463.7L966.5 471.7L967 473.2L967 466.2L967.5 465.9L967.5 474.2L968 473.4L968 462.9L968.5 465.7L968.5 473.4L969 472.4L969 465.7L969.5 465.1L969.5 470.3L970 471.9L970 463.7L970.5 462.8L970.5 470.2L971 470.2L971 462.1L971.5 463.4L971.5 469.1L972 469.5L972 461.9L972.5 461.1L972.5 473.7L973 467.8L973 459.1L973.5 458.6L973.5 468.5L974 468.2L974 459.8L974.5 458.7L974.5 466.7L975 463.3L975 457.7L975.5 454.3L975.5 463.5L976 460.9L976 454.1L976.5 451.9L976.5 460.8L977 463.5L977 453.1L977.5 455.7L977.5 464.2L978 465.5L978 456.4L978.5 456.3L978.5 466.1L979 463.1L979 456.5L979.5 456.7L979.5 464.5L980 465.6L980 458.3L980.5 456.3L980.5 466.3L981 464.7L981 456.5L981.5 457.3L981.5 467.4L982 467.6L982 457.8L982.5 458.4L982.5 465.9L983 467.1L983 459.4L983.5 459.5L983.5 467.8L984 469.2L984 459L984.5 465.3L984.5 472L985 473.5L985 465L985.5 452.8L985.5 458.9L986 434.6L986 427L986.5 407.7L986.5 413.8L987 411.6L987 402.1L987.5 399.6L987.5 410.1L988 418.2L988 412.3L988.5 419.1L988.5 427.3L989 436.1L989 428.3L989.5 432.3L989.5 440.9L990 426.1L990 417.8L990.5 398.3L990.5 407.8L991 391.8L991 384.5L991.5 379.7L991.5 387.1L992 381.4L992 375.3L992.5 376.6L992.5 386.7L993 387.8L993 380.8L993.5 387.3L993.5 395.7L994 423.8L994 413.5L994.5 446.4L994.5 457.7L995 464.6L995 455L995.5 459.6L995.5 466.3L996 456.3L996 449.1L996.5 438.9L996.5 445.8L997 435.8L997 425.3L997.5 415.2L997.5 422.8L998 412.9L998 406.7L998.5 395L998.5 403.3L999 394.2L999 386.1L999.5 379.6L999.5 388.3L1000 385.2L1000 376.4L1000.5 373.6L1000.5 380.9L1001 382.5L1001 372.3L1001.5 375.2L1001.5 384.3L1002 387.1L1002 378.3L1002.5 380.5L1002.5 390.4L1003 392.8L1003 384.2L1003.5 386.4L1003.5 395.6L1004 398.7L1004 389L1004.5 392.5L1004.5 398.7L1005 400.9L1005 392L1005.5 391.1L1005.5 400.9L1006 400.6L1006 393.2L1006.5 393.8L1006.5 401.6L1007 400.7L1007 394.1L1007.5 395.9L1007.5 402.4L1008 405.4L1008 396.2L1008.5 397L1008.5 404.8L1009 407.7L1009 400.3L1009.5 402.2L1009.5 410.9L1010 413.7L1010 403.5L1010.5 405L1010.5 415.3L1011 416L1011 406.7L1011.5 408.2L1011.5 416.5L1012 418L1012 410.7L1012.5 410.9L1012.5 420L1013 420.3L1013 412.5L1013.5 414.4L1013.5 421.6L1014 423.2L1014 416.6L1014.5 416.8L1014.5 424.2L1015 425.4L1015 418.9L1015.5 419.8L1015.5 427.8L1016 430L1016 421.3L1016.5 424.9L1016.5 432.7L1017 435.2L1017 426.2L1017.5 428.7L1017.5 435.7L1018 436.8L1018 428.9L1018.5 433.1L1018.5 439.3L1019 441.1L1019 432.4L1019.5 436.8L1019.5 443.3L1020 446.2L1020 437.5L1020.5 440L1020.5 448.2L1021 451.4L1021 443.6L1021.5 446.2L1021.5 455.6L1022 460.6L1022 450.6L1022.5 454.2L1022.5 463.7L1023 465.9L1023 456.1L1023.5 459.9L1023.5 467.4L1024 467.7L1024 460.4L1024.5 461.4L1024.5 468.8L1025 471.5L1025 463.6L1025.5 462.8L1025.5 471.7L1026 475.2L1026 466.3L1026.5 467.1L1026.5 473.8L1027 474.7L1027 467.7L1027.5 468.5L1027.5 475.7L1028 474.8L1028 467.6L1028.5 468.2L1028.5 476.2L1029 474.9L1029 468.6L1029.5 469.9L1029.5 476.6L1030 476.8L1030 469.2L1030.5 470.6L1030.5 476.4L1031 476.2L1031 468.8L1031.5 471.4L1031.5 477.5L1032 478.1L1032 470.3L1032.5 469.2L1032.5 477.7L1033 479.1L1033 470.5L1033.5 473.6L1033.5 481.2L1034 484.5L1034 475.1L1034.5 476.2L1034.5 482.4L1035 484.6L1035 477.1L1035.5 476.7L1035.5 485.5L1036 487.4L1036 477.8L1036.5 480.7L1036.5 488.9L1037 486.4L1037 478.8L1037.5 481.1L1037.5 489.2L1038 487.9L1038 480.4L1038.5 481.1L1038.5 489.5L1039 493L1039 481.1L1039.5 479.8L1039.5 487.7L1040 488.2L1040 482.1L1040.5 482.1L1040.5 489.5L1041 489.4L1041 483.1L1041.5 482.2L1041.5 490.1L1042 493.7L1042 483.6L1042.5 485.1L1042.5 494.8L1043 494.5L1043 486.8L1043.5 487.7L1043.5 498.6L1044 498.1L1044 488.1L1044.5 489.1L1044.5 497.5L1045 497.5L1045 492.5L1045.5 491.3L1045.5 500.4L1046 501.4L1046 492.9L1046.5 494.4L1046.5 500.1L1047 502.7L1047 493L1047.5 495.2L1047.5 500.8L1048 500.7L1048 494.3L1048.5 494.7L1048.5 502.3L1049 504.3L1049 495L1049.5 495.3L1049.5 503.5L1050 504.1L1050 495.6L1050.5 497L1050.5 504.4L1051 505.9L1051 498.8L1051.5 500.1L1051.5 507.4L1052 507.9L1052 500L1052.5 499.9L1052.5 507.7L1053 507.8L1053 501.7L1053.5 502.7L1053.5 510.3L1054 509.1L1054 503.8L1054.5 501.8L1054.5 510.2L1055 513.1L1055 505.2L1055.5 504.9L1055.5 512.4L1056 513.2L1056 504.6L1056.5 506.2L1056.5 515.7L1057 515.6L1057 505.6L1057.5 506.9L1057.5 515.6L1058 514.7L1058 505.9L1058.5 505.7L1058.5 513.2L1059 513.5L1059 505.5L1059.5 505.1L1059.5 514.3L1060 513.1L1060 506L1060.5 506.2L1060.5 513.5L1061 514L1061 505.3L1061.5 505.5L1061.5 515.2L1062 514.9L1062 505.4L1062.5 507L1062.5 514.8L1063 516.3L1063 506.3L1063.5 507.3L1063.5 516L1064 514.2L1064 506.3L1064.5 508.4L1064.5 516.6L1065 515L1065 509.6L1065.5 509.6L1065.5 515.1L1066 515.7L1066 508.1L1066.5 509.9L1066.5 517.3L1067 516.4L1067 509.4L1067.5 503.1L1067.5 517.4L1068 517.3L1068 508.1L1068.5 510.1L1068.5 517.6L1069 518.9L1069 507.5L1069.5 510L1069.5 516L1070 516.7L1070 505.5L1070.5 507L1070.5 515.2L1071 514.7L1071 508.3L1071.5 506.9L1071.5 515.5L1072 516.7L1072 506.7L1072.5 508.1L1072.5 515.7L1073 516L1073 508.5L1073.5 509L1073.5 516.3L1074 515.9L1074 507.6L1074.5 506.5L1074.5 515.8L1075 514.2L1075 508.9L1075.5 507.2L1075.5 515.6L1076 514.5L1076 507.7L1076.5 507.6L1076.5 516.8L1077 514.8L1077 508L1077.5 508.4L1077.5 516L1078 515.9L1078 507.4L1078.5 509.1L1078.5 516.9L1079 515.8L1079 507.6L1079.5 506.5L1079.5 516.3L1080 517.2L1080 508.3L1080.5 508.9L1080.5 516.9"/>
<path stroke-linecap="butt" d="M527.2 554.6L964.1 546.9"/>
<path stroke-linecap="square" d="M171.3 239.1V530M172.1 239.1V530M411.6 529V700M412.1 529.5V700M411 640V700M412.9 655V700M527.1 555.6V622M964.1 470V546.9M1008.8 400V471.5M1015 422V462.5"/>
</g>
<g stroke="#ff0000">
<path d="M150.5 572.3L150.5 578.2L151 581.4L151 572.7L151.5 571.6L151.5 580.9L152 582.8L152 568.4L152.5 573.6L152.5 581.6L153 583.7L153 575.1L153.5 575.2L153.5 584L154 583.5L154 574.7L154.5 572.9L154.5 584.6L155 584.5L155 577.4L155.5 574.5L155.5 583.9L156 585.7L156 574.5L156.5 571.8L156.5 584.3L157 586.2L157 576.8L157.5 576L157.5 584.7L158 583.4L158 574.7L158.5 577.9L158.5 585L159 585L159 577L159.5 577L159.5 584.8L160 586.1L160 578.9L160.5 579L160.5 588.1L161 586.8L161 578.5L161.5 580.6L161.5 592.7L162 589.5L162 582.4L162.5 582.8L162.5 589.4L163 589.2L163 582.5L163.5 580.5L163.5 589.5L164 590L164 581.9L164.5 580.5L164.5 589.1L165 591.1L165 582L165.5 579.3L165.5 593L166 590.6L166 581.5L166.5 582.6L166.5 592.1L167 590.1L167 583.6L167.5 581.1L167.5 590.3L168 592.4L168 583.2L168.5 581.9L168.5 592.6L169 590L169 582.5L169.5 584.2L169.5 591.7L170 591.5L170 583.2L170.5 584.5L170.5 593.1L171 592.1L171 583.7L171.5 585.9L171.5 593.5L172 593.2L172 585.2L172.5 585.3L172.5 596.1L173 594.8L173 587L173.5 586.8L173.5 596.2L174 596.9L174 588.8L174.5 587.9L174.5 596.6L175 598.6L175 590L175.5 591.2L175.5 599.3L176 598.2L176 591.9L176.5 590.6L176.5 598.8L177 598.5L177 590.1L177.5 592.6L177.5 601.2L178 600.8L178 591.3L178.5 593.1L178.5 599.6L179 600.4L179 593.7L179.5 594.1L179.5 602.9L180 602.9L180 594.3L180.5 593.8L180.5 604L181 603.2L181 596.3L181.5 593.1L181.5 605.4L182 603.2L182 597.2L182.5 597L182.5 605.9L183 605.3L183 596.7L183.5 596.5L183.5 606.7L184 607.6L184 598.7L184.5 597.9L184.5 607.3L185 606L185 599.3L185.5 598.2L185.5 605.6L186 606.7L186 599L186.5 597.9L186.5 608.7L187 608.8L187 597.8L187.5 598.6L187.5 607.3L188 607.8L188 597.6L188.5 600.3L188.5 606.6L189 609.5L189 599.8L189.5 599.6L189.5 608.5L190 607.2L190 598.7L190.5 599.8L190.5 609.1L191 607.7L191 599.9L191.5 601.4L191.5 610.8L192 610.4L192 600.3L192.5 602.3L192.5 612.1L193 612.3L193 603.7L193.5 602.3L193.5 610.3L194 612.2L194 604.7L194.5 602L194.5 611.9L195 613.1L195 605.5L195.5 606.5L195.5 612.1L196 615.5L196 606.1L196.5 605.3L196.5 615.8L197 614L197 606.4L197.5 606.5L197.5 614.6L198 620.8L198 607.1L198.5 609.3L198.5 615.9L199 615.4L199 607L199.5 607.6L199.5 617.1L200 618.5L200 609.9L200.5 609.6L200.5 616L201 618.3L201 608.2L201.5 608.8L201.5 618.7L202 618.4L202 610L202.5 609.1L202.5 618.8L203 621.9L203 609.1L203.5 610.6L203.5 619.1L204 617.7L204 611.7L204.5 612.7L204.5 619.8L205 621.6L205 611.4L205.5 612.5L205.5 619.9L206 621.4L206 612.1L206.5 614.4L206.5 623.2L207 623.6L207 612.7L207.5 614.9L207.5 621.6L208 624.8L208 613.4L208.5 614.2L208.5 624.1L209 623.4L209 615.5L209.5 613.8L209.5 622.7L210 623.2L210 613.6L210.5 613.9L210.5 624.9L211 624L211 616L211.5 614.1L211.5 625L212 622.9L212 614.1L212.5 615.7L212.5 625.7L213 623.7L213 614.3L213.5 616.6L213.5 624.5L214 623.9L214 616.4L214.5 616.4L214.5 624L215 624.1L215 615.9L215.5 615.9L215.5 626L216 624.8L216 616.4L216.5 618.4L216.5 626.9L217 629L217 619.4L217.5 619.1L217.5 626.8L218 629.2L218 618.4L218.5 620.7L218.5 630.5L219 628.6L219 620.9L219.5 622.3L219.5 634.9L220 628.5L220 621.1L220.5 621.4L220.5 629.1L221 631.1L221 622.2L221.5 620.9L221.5 630.7L222 628.6L222 620.8L222.5 621.5L222.5 628.8L223 629.3L223 622.3L223.5 621.3L223.5 630.6L224 632.9L224 622L224.5 621.8L224.5 630.7L225 636.5L225 623.3L225.5 620.9L225.5 631.7L226 634.4L226 625.3L226.5 624.4L226.5 632.6L227 634.5L227 623.4L227.5 626.4L227.5 633.3L228 633.9L228 624.5L228.5 627.5L228.5 635.4L229 635.5L229 626.7L229.5 625.8L229.5 634.7L230 636.5L230 626.9L230.5 627L230.5 636.7L231 636.1L231 623.5L231.5 627L231.5 635.2L232 637.2L232 629.5L232.5 628.3L232.5 637.9L233 639.2L233 629.4L233.5 630L233.5 637.2L234 639.4L234 629.7L234.5 629.3L234.5 638.4L235 639.9L235 630.3L235.5 629.5L235.5 638.6L236 638.1L236 630.4L236.5 631.7L236.5 639.3L237 640.5L237 631.3L237.5 629.9L237.5 638.6L238 638.3L238 629.8L238.5 630.8L238.5 640L239 640.5L239 631.9L239.5 630.3L239.5 639L240 640.6L240 632.2L240.5 634.1L240.5 641.2L241 643L241 633.9L241.5 632.2L241.5 641.3L242 643.5L242 632.9L242.5 634.3L242.5 643.3L243 641.8L243 634.5L243.5 633.2L243.5 642.2L244 645.4L244 636.3L244.5 632.1L244.5 645.3L245 643.4L245 634.9L245.5 634.5L245.5 643.1L246 643.5L246 635.7L246.5 635.3L246.5 649.1L247 644.4L247 637.1L247.5 637.6L247.5 645.1L248 645.2L248 637.9L248.5 639.2L248.5 649.1L249 646.3L249 639.5L249.5 637.4L249.5 645.9L250 647.5L250 637.3L250.5 640.3L250.5 646.1L251 646.9L251 639.7L251.5 639.5L251.5 648.6L252 650.5L252 640.3L252.5 640.7L252.5 649.9L253 648.4L253 639.1L253.5 642.3L253.5 651.4L254 649.9L254 642.2L254.5 641.9L254.5 650.1L255 651.9L255 640.7L255.5 643.2L255.5 652.4L256 649.3L256 642L256.5 643.2L256.5 652.1L257 651.9L257 641.2L257.5 642.4L257.5 651.1L258 652L258 640.7L258.5 641.1L258.5 650.1L259 650.2L259 641.1L259.5 642.5L259.5 652.9L260 650.7L260 643L260.5 645.1L260.5 652.3L261 654.1L261 644.5L261.5 643.6L261.5 653.7L262 653.5L262 645L262.5 646L262.5 655.4L263 653.5L263 645.1L263.5 647.8L263.5 655.1L264 656L264 648L264.5 645.8L264.5 658.2L265 656.5L265 648.2L265.5 646.1L265.5 656.2L266 655L266 647.7L266.5 646.8L266.5 657.3L267 655.4L267 648.2L267.5 649.4L267.5 654.9L268 656.2L268 646.8L268.5 646L268.5 658.4L269 657.6L269 648.7L269.5 647.7L269.5 659.9L270 657.9L270 648.5L270.5 650.5L270.5 658.6L271 658.5L271 648.4L271.5 648.4L271.5 657L272 659.1L272 651.1L272.5 648.1L272.5 657.8L273 658.2L273 651.5L273.5 651.3L273.5 659.7L274 662.7L274 650.8L274.5 651.1L274.5 658.7L275 660.4L275 650.5L275.5 650.1L275.5 658.7L276 661.3L276 653.6L276.5 651.9L276.5 664.2L277 661.2L277 652.9L277.5 654.3L277.5 664.2L278 665.1L278 656.2L278.5 654.9L278.5 665.8L279 665.3L279 655.9L279.5 654L279.5 668.5L280 664.3L280 657.5L280.5 655.6L280.5 665.5L281 664L281 654.6L281.5 657.3L281.5 665.6L282 665.5L282 656.3L282.5 656L282.5 664.3L283 665.3L283 655.7L283.5 658.5L283.5 664.7L284 664.7L284 656.2L284.5 657.2L284.5 667.2L285 667.4L285 657.7L285.5 656.9L285.5 665.3L286 665.4L286 656.6L286.5 658.6L286.5 666.4L287 667.7L287 657.3L287.5 660.8L287.5 667L288 668.1L288 658.7L288.5 660.8L288.5 669.3L289 671.4L289 659.2L289.5 661.3L289.5 672.2L290 673.1L290 662.5L290.5 664.6L290.5 671.8L291 673L291 664.5L291.5 664.5L291.5 673.4L292 674L292 662.9L292.5 663.5L292.5 672.8L293 673.3L293 665.1L293.5 664.2L293.5 672.1L294 674.1L294 666L294.5 664.2L294.5 673.1L295 673.3L295 665.9L295.5 664.9L295.5 677.2L296 672.8L296 663.9L296.5 665.5L296.5 673.2L297 675.9L297 664.5L297.5 666.7L297.5 676.4L298 675.3L298 660.4L298.5 666.5L298.5 679.9L299 674.6L299 668.1L299.5 668L299.5 675.2L300 675.4L300 667.9L300.5 669.5L300.5 677.6L301 675.8L301 669L301.5 668.5L301.5 680.6L302 676.1L302 666.9L302.5 669L302.5 677.5L303 676.6L303 670L303.5 667.8L303.5 677.4L304 678.6L304 664.1L304.5 668.6L304.5 678.4L305 679.5L305 671.3L305.5 669.9L305.5 680.1L306 678.2L306 670.1L306.5 671.7L306.5 678.7L307 679.7L307 670.4L307.5 672L307.5 681.2L308 681.3L308 671.6L308.5 671.7L308.5 682.6L309 680.5L309 672.2L309.5 674L309.5 682.6L310 681L310 674.8L310.5 675.1L310.5 683.7L311 682.6L311 674.4L311.5 674.5L311.5 683L312 683.4L312 673.5L312.5 673.7L312.5 681.6L313 682.9L313 675.4L313.5 675.7L313.5 684.8L314 682.3L314 675L314.5 675.3L314.5 682.4L315 684.1L315 674.3L315.5 677.5L315.5 685.8L316 686.4L316 678.3L316.5 676.7L316.5 686.2L317 688.5L317 678.3L317.5 681.3L317.5 688.8L318 687.9L318 680.7L318.5 682.5L318.5 689.2L319 691.3L319 680.8L319.5 682.4L319.5 690.7L320 689.9L320 681.1L320.5 680.6L320.5 691.5L321 692.2L321 681.9L321.5 681.3L321.5 692L322 690.9L322 682.8L322.5 682.5L322.5 690.4L323 690L323 683.8L323.5 682.2L323.5 691.4L324 692.5L324 683.6L324.5 681.4L324.5 689.8L325 690.2L325 683.3L325.5 682.6L325.5 690.6L326 690.7L326 676.9L326.5 683.9L326.5 690.8L327 690L327 677.6L327.5 679.3L327.5 693.3L328 693.1L328 684.4L328.5 684.8L328.5 692.2L329 692.8L329 684.8L329.5 684.6L329.5 694L330 695.3L330 686.3L330.5 685.6L330.5 694.8L331 696.6L331 686.6L331.5 685.6L331.5 697.3L332 696.6L332 688.4L332.5 688.8L332.5 697.3L333 697.8L333 687.2L333.5 688L333.5 697.3L334 696L334 687.8L334.5 689.6L334.5 697.7L335 698L335 687.3L335.5 687.6L335.5 699.2L336 699L336 687.5L336.5 689.8L336.5 697.4L337 697.5L337 687.8L337.5 687.9L337.5 697.9L338 702.2L338 688.6L338.5 690.3L338.5 699.6L339 700.2L339 689.1L339.5 690.1L339.5 700.9L340 699.3L340 692.7L340.5 692.3L340.5 700L341 699.9L341 693.4L341.5 692.2L341.5 701.6L342 700.7L342 692.5L342.5 693L342.5 702.3L343 701.1L343 693.1L343.5 694.7L343.5 702.2L344 701.5L344 694.6L344.5 695.1L344.5 701.7L345 704.4L345 695.3L345.5 692.8L345.5 702.5L346 703L346 695.7L346.5 695.1L346.5 703.3L347 704.1L347 692.8L347.5 695.4L347.5 701.1L348 701.9L348 695.1L348.5 694.3L348.5 703.3L349 702.3L349 694.5L349.5 692.3L349.5 702.7L350 701.3L350 694.1L350.5 694.4L350.5 703.6L351 703.3L351 692.6L351.5 692.6L351.5 701.5L352 705.2L352 695.5L352.5 693L352.5 701.9L353 703L353 689.8L353.5 693.1L353.5 702.2L354 702.6L354 695.9L354.5 694.8L354.5 703.1L355 703.3L355 694.8L355.5 696L355.5 702.4L356 701.8L356 694.8L356.5 695.4L356.5 703.1L357 703.7L357 695.3L357.5 694.7L357.5 703.9L358 703.1L358 692.3L358.5 692.6L358.5 703.1L359 701L359 694.3L359.5 694.6L359.5 702.3L360 703.9L360 693.8L360.5 693.6L360.5 703.5L361 704.7L361 693.6L361.5 695.9L361.5 704.5L362 703.6L362 694.8L362.5 694.4L362.5 703L363 705.8L363 694.4L363.5 696.6L363.5 703.7L364 704.3L364 696.2L364.5 697.3L364.5 705.9L365 706L365 697.8L365.5 697.3L365.5 705.6L366 706.5L366 698.5L366.5 698.5L366.5 704.6L367 706.9L367 696.7L367.5 697.6L367.5 705.9L368 705.2L368 698.9L368.5 697.6L368.5 706.9L369 707.3L369 697.4L369.5 698.5L369.5 707.8L370 708.7L370 698L370.5 698.9L370.5 708.5L371 709L371 699.5L371.5 696.6L371.5 706.8L372 705.9L372 696.3L372.5 698.3L372.5 705.7L373 707.4L373 696.1L373.5 698.2L373.5 704.7L374 705.2L374 697.2L374.5 696L374.5 706.3L375 704.8L375 698L375.5 698.1L375.5 704.7L376 704.7L376 696.5L376.5 696.9L376.5 705.6L377 707.2L377 697.7L377.5 698.7L377.5 711L378 706.4L378 699.6L378.5 698.1L378.5 708.6L379 706.9L379 699.9L379.5 699.5L379.5 706.5L380 708.1L380 697.5L380.5 699.7L380.5 707.7L381 706.7L381 698L381.5 697.1L381.5 705.2L382 706.3L382 696.6L382.5 698L382.5 708.4L383 705.6L383 696.1L383.5 697.2L383.5 706.4L384 707.6L384 697.7L384.5 696.1L384.5 704.9L385 707.6L385 697.2L385.5 699.5L385.5 705.5L386 707.1L386 696.5L386.5 698.5L386.5 706.6L387 709.2L387 699.7L387.5 696.5L387.5 707.9L388 707.9L388 699.6L388.5 699.6L388.5 708.9L389 707.3L389 698.9L389.5 701.2L389.5 708.7L390 708.5L390 700.8L390.5 701L390.5 707.2L391 710L391 699.3L391.5 699.6L391.5 708.9L392 709.9L392 698.4L392.5 700.4L392.5 707.8L393 709.9L393 698.4L393.5 700L393.5 709.6L394 709.6L394 699.5L394.5 698.9L394.5 707.3L395 708.9L395 699.3L395.5 701.3L395.5 707.3L396 707.8L396 698.7L396.5 699.6L396.5 709L397 709.2L397 699.2L397.5 700.4L397.5 708.4L398 707.2L398 700.3L398.5 697.9L398.5 707.2L399 706.6L399 699.9L399.5 700.1L399.5 707L400 706.7L400 700.5L400.5 698.9L400.5 706.8L401 709.4L401 699.6L401.5 700.2L401.5 710.9L402 707L402 697.6L402.5 698.8L402.5 708.8L403 706.4L403 698.9L403.5 699.5L403.5 707.1L404 706.8L404 699.7L404.5 698.1L404.5 706.8L405 708.7L405 698.3L405.5 698.3L405.5 707L406 708.3L406 700.5L406.5 698.2L406.5 707.1L407 708.7L407 698.5L407.5 698.6L407.5 710.6L408 706L408 698L408.5 697.1L408.5 707L409 707.1L409 692.9L409.5 697.4L409.5 704.6L410 708.8L410 695.9L410.5 695.4L410.5 705.8L411 702.8L411 694.2L411.5 693.7L411.5 704.5L412 702L412 694L412.5 693.1L412.5 701.4L413 700.5L413 691.8L413.5 694.3L413.5 701.6L414 702.2L414 691.6L414.5 691.3L414.5 701L415 700.5L415 693L415.5 692.8L415.5 700.5L416 700.3L416 690.8L416.5 692L416.5 699.8"/>
<path d="M419 684.6L419 693.6L419.5 694.8L419.5 684.9L420 684.9L420 694.1L420.5 693.1L420.5 685.7L421 685.2L421 694.1L421.5 693.4L421.5 686.6L422 684.5L422 693.2L422.5 695.6L422.5 686.2L423 686L423 695.6L423.5 695L423.5 687.8L424 686.3L424 696.3L424.5 694.1L424.5 685.5L425 687.5L425 696L425.5 693.4L425.5 686.1L426 685.8L426 695.8L426.5 693.3L426.5 687.7L427 687.7L427 696L427.5 696.1L427.5 687.7L428 687.5L428 693.3L428.5 693.2L428.5 685.7L429 685.8L429 692.9L429.5 692.2L429.5 686.2L430 684.6L430 694.6L430.5 693L430.5 683L431 683.5L431 694.1L431.5 692.5L431.5 681.6L432 682.9L432 692L432.5 692.7L432.5 684.4L433 682.5L433 693.3L433.5 692.5L433.5 682.4L434 682.7L434 693.5L434.5 691.4L434.5 683.5L435 683.7L435 689.9L435.5 691.1L435.5 682.2L436 682L436 691.5L436.5 690.3L436.5 682.5L437 681.6L437 690.1L437.5 689.9L437.5 679.8L438 682L438 687.3L438.5 689.2L438.5 679.6L439 680.1L439 687.6L439.5 688.8L439.5 680.2L440 679.8L440 687.1L440.5 686.2L440.5 678L441 677L441 687.7L441.5 686.6L441.5 679.7L442 679L442 687.9L442.5 686.3L442.5 677.9L443 678.5L443 685.3L443.5 686L443.5 677.5L444 677.4L444 686.6L444.5 685.5L444.5 674.3L445 676.7L445 686.9L445.5 687.3L445.5 677.3L446 677L446 685.6L446.5 686.9L446.5 679.5L447 678L447 686.4L447.5 686L447.5 676.2L448 677.7L448 690.2L448.5 688.2L448.5 679.9L449 679.7L449 688.8L449.5 688.2L449.5 678.9L450 678.7L450 688L450.5 687.1L450.5 678.8L451 679.5L451 686.7L451.5 690.1L451.5 680.2L452 681.4L452 688.6L452.5 690.4L452.5 681.8L453 682.4L453 691.7L453.5 691.7L453.5 683.9L454 683.6L454 692.7L454.5 691.9L454.5 683.9L455 687L455 692.9L455.5 694L455.5 684.8L456 685.8L456 693.3L456.5 695.2L456.5 686.6L457 685.3L457 694.7L457.5 695.5L457.5 687.8L458 687.5L458 695.5L458.5 695.4L458.5 683.7L459 687.1L459 697.4L459.5 695.8L459.5 686.5L460 689.6L460 695.5L460.5 699.1L460.5 687.3L461 690.1L461 697.2L461.5 698.3L461.5 688.9L462 691.7L462 699.5L462.5 700.8L462.5 692.3L463 692.2L463 699L463.5 700.4L463.5 690.7L464 693.7L464 701.3L464.5 701.1L464.5 691.5L465 693.4L465 702.5L465.5 699.7L465.5 692.8L466 693.1L466 702L466.5 699.5L466.5 692.7L467 687.9L467 701.1L467.5 698.6L467.5 691.7L468 690L468 698L468.5 698.7L468.5 688.7L469 688.6L469 698.8L469.5 698L469.5 688.1L470 687.9L470 696.9L470.5 697.2L470.5 687L471 688.6L471 695.8L471.5 695L471.5 685.6L472 684L472 694.3L472.5 694.2L472.5 683.3L473 683.9L473 691.3L473.5 692L473.5 682.4L474 680.6L474 688.9L474.5 689.5L474.5 680.1L475 679.9L475 687.2L475.5 687.3L475.5 680.9L476 677.4L476 688.8L476.5 687L476.5 679.4L477 676.8L477 686.8L477.5 683.9L477.5 675.8L478 677.3L478 685.9L478.5 683.4L478.5 675.8L479 674.1L479 685.3L479.5 683.9L479.5 673.6L480 673.4L480 683L480.5 682.2L480.5 672.9L481 671.9L481 679.8L481.5 679.8L481.5 670.6L482 670L482 680.1L482.5 679.9L482.5 665.2L483 670.3L483 677.9L483.5 676.6L483.5 668.7L484 667.9L484 677.3L484.5 678.7L484.5 667.9L485 667.3L485 678.2L485.5 677L485.5 667.5L486 667.1L486 677L486.5 675.3L486.5 666.4L487 668.1L487 675.1L487.5 674L487.5 665.7L488 667.7L488 675L488.5 675.7L488.5 662.8L489 665.9L489 672.4L489.5 672.9L489.5 664.8L490 666L490 671.8L490.5 672.2L490.5 664L491 663.9L491 673.4L491.5 671.6L491.5 664.6L492 663.4L492 673L492.5 671.5L492.5 662.5L493 664.1L493 672.8L493.5 671.9L493.5 662.7L494 661.5L494 670.6L494.5 671.9L494.5 662.6L495 663.3L495 671.5L495.5 669.3L495.5 660.8L496 661L496 674L496.5 670.5L496.5 663.5L497 661.3L497 668.8L497.5 670.3L497.5 662.9L498 661.3L498 669.5L498.5 669L498.5 661.1L499 660.9L499 675.3L499.5 668L499.5 661.4L500 658.7L500 668.8L500.5 667.6L500.5 658.1L501 658.8L501 666L501.5 670.8L501.5 656.7L502 652.5L502 665.1L502.5 662.6L502.5 653.6L503 652.8L503 661.1L503.5 659.5L503.5 653.2L504 652.5L504 660.7L504.5 659.6L504.5 650.7L505 651.5L505 658.4L505.5 658L505.5 649.2L506 646.9L506 656.8L506.5 657.2L506.5 647.5L507 647.7L507 654.3L507.5 654L507.5 645.7L508 644.2L508 654.8L508.5 653.6L508.5 644.3L509 643.5L509 652.9L509.5 651.9L509.5 643.1L510 642.1L510 653.3L510.5 652.8L510.5 644.5L511 643.1L511 653L511.5 650.3L511.5 641.9L512 642.1L512 655L512.5 649.8L512.5 644.1L513 642.5L513 649.9L513.5 650.8L513.5 641L514 641.4L514 652.4L514.5 650.1L514.5 640.8L515 641.6L515 649.5L515.5 649.8L515.5 642.9L516 641.6L516 650.8L516.5 647.7L516.5 639L517 640.3L517 649.7L517.5 648.7L517.5 639.6L518 638.3L518 646.3L518.5 645.5L518.5 637.7L519 637.1L519 644.6L519.5 649.9L519.5 637.2L520 635.4L520 646.1L520.5 644.2L520.5 637.2L521 637.3L521 643.5L521.5 645.4L521.5 636.3L522 635.5L522 643.8L522.5 643.2L522.5 634.6L523 636.3L523 643.1L523.5 643L523.5 633.4L524 632L524 641.5L524.5 640.2L524.5 632.4L525 629.7L525 639.2L525.5 639.2L525.5 629.4L526 629L526 637.4L526.5 635.3L526.5 628"/>
<path d="M964.5 542.1L964.5 550.6L965 551.3L965 543.7L965.5 542.2L965.5 551.1L966 552.3L966 542.6L966.5 538.1L966.5 551.3L967 551.1L967 542.9L967.5 538.1L967.5 551.9L968 549.5L968 540.9L968.5 537.7L968.5 550.5L969 549.8L969 542.1L969.5 540.2L969.5 549L970 551.4L970 542.7L970.5 542.1L970.5 550.2L971 548.3L971 542.6L971.5 541.8L971.5 549.9L972 550.8L972 542.3L972.5 539.9L972.5 550.2L973 550.9L973 539.5L973.5 534.8L973.5 548.6L974 549.7L974 539.9L974.5 541L974.5 550.7L975 548.7L975 541.9L975.5 540.5L975.5 548.8L976 549.8L976 540L976.5 541.3L976.5 549.1L977 547.9L977 540.8L977.5 541.1L977.5 548.5L978 548.9L978 539.7L978.5 539.8L978.5 548.3L979 547.2L979 536.6L979.5 538.8L979.5 546.4L980 550.6L980 537.1L980.5 535.1L980.5 543.3L981 546.1L981 534.7L981.5 535.3L981.5 543.3L982 543.9L982 536.5L982.5 536L982.5 544.4L983 542.8L983 535.6L983.5 536.7L983.5 544.6L984 544.2L984 535.9L984.5 532.2L984.5 541L985 541.4L985 531L985.5 529.7L985.5 538.3L986 535.7L986 528.6L986.5 527L986.5 536L987 532.8L987 526.5L987.5 523.5L987.5 531.6L988 530.8L988 522.3L988.5 516.5L988.5 527.4L989 524L989 517.7L989.5 513.1L989.5 521.7L990 519.8L990 510.2L990.5 508.8L990.5 517.4L991 515.7L991 506.1L991.5 504.3L991.5 514.4L992 517.1L992 502.6L992.5 505.7L992.5 514.8L993 519.5L993 511.6L993.5 515.5L993.5 522.1L994 532.9L994 524.1L994.5 531.1L994.5 541.7L995 550.7L995 540.1L995.5 541.5L995.5 553.1L996 552.7L996 543.4L996.5 547.8L996.5 554L997 549.3L997 540.5L997.5 534.8L997.5 546.1L998 540.9L998 530.3L998.5 526L998.5 534.7L999 528.5L999 517.3L999.5 512.2L999.5 521.3L1000 518.3L1000 509.6L1000.5 508.6L1000.5 522L1001 516.2L1001 508.7L1001.5 510.2L1001.5 524.1L1002 521.2L1002 511.8L1002.5 510.7L1002.5 521.6L1003 521L1003 513.4L1003.5 513.9L1003.5 522.4L1004 524.4L1004 516.3L1004.5 517.1L1004.5 524.6L1005 525.2L1005 518.8L1005.5 517.9L1005.5 528.8L1006 530L1006 521L1006.5 521L1006.5 528.4L1007 530.7L1007 521.9L1007.5 522.7L1007.5 533.1L1008 532.6L1008 522.9L1008.5 524L1008.5 532.2L1009 532.7L1009 523.6L1009.5 525L1009.5 533L1010 533.3L1010 525.6L1010.5 525.3L1010.5 534.3L1011 536.8L1011 526.6L1011.5 528.6L1011.5 540.1L1012 539.2L1012 531.3L1012.5 533.8L1012.5 543.1L1013 542.9L1013 536.4L1013.5 537.7L1013.5 546.7L1014 547.1L1014 537.9L1014.5 540.6L1014.5 549.5L1015 549.1L1015 541.7L1015.5 540.5L1015.5 550.1L1016 552.9L1016 544.1L1016.5 544.4L1016.5 551.8L1017 552.1L1017 544.4L1017.5 546.6L1017.5 554.7L1018 556.9L1018 547.9L1018.5 548.3L1018.5 557.8L1019 556.4L1019 548.8L1019.5 548.3L1019.5 559.7L1020 558.4L1020 550.8L1020.5 547.4L1020.5 559.9L1021 559.6L1021 552.6L1021.5 553.5L1021.5 562.1L1022 566.8L1022 553.4L1022.5 553.3L1022.5 562.9L1023 564.3L1023 553.5L1023.5 554.7L1023.5 566L1024 566.5L1024 556.6L1024.5 557.4L1024.5 564.8L1025 566.9L1025 556.3L1025.5 558.3L1025.5 567.2L1026 566.6L1026 559.6L1026.5 559.8L1026.5 567.4L1027 568.4L1027 559.1L1027.5 561.9L1027.5 569.9L1028 569L1028 560.5L1028.5 560.7L1028.5 574.1L1029 569.5L1029 562.4L1029.5 564.4L1029.5 571.4L1030 572.6L1030 563.9L1030.5 562.7L1030.5 572.6L1031 571.9L1031 562.9L1031.5 564.8L1031.5 574L1032 575.3L1032 565.1L1032.5 560.7L1032.5 573.7L1033 573.3L1033 564.7L1033.5 566.3L1033.5 575.4L1034 573.1L1034 564.6L1034.5 566.5L1034.5 572.9L1035 574.6L1035 565.1L1035.5 566.8L1035.5 574.6L1036 572.9L1036 565.5L1036.5 566.7L1036.5 574.9L1037 573.3L1037 565.2L1037.5 566.4L1037.5 575.6L1038 576.5L1038 564.5L1038.5 565L1038.5 574.1L1039 575.5L1039 567.5L1039.5 566.7L1039.5 575.4L1040 574.3L1040 565.3L1040.5 566.1L1040.5 576.1L1041 576.6L1041 567.3L1041.5 567.5L1041.5 576.4L1042 574.3L1042 567.1L1042.5 568L1042.5 574.2L1043 576L1043 565.4L1043.5 566.8L1043.5 574.5L1044 575.1L1044 566.6L1044.5 565.8L1044.5 573.2L1045 573.8L1045 567.2L1045.5 564.8L1045.5 572.9L1046 574.7L1046 566.3L1046.5 565.9L1046.5 573L1047 573.1L1047 567L1047.5 565.6L1047.5 574L1048 575.9L1048 565.6L1048.5 565.3L1048.5 573.8L1049 577.4L1049 568L1049.5 567.5L1049.5 576.5L1050 577.8L1050 569L1050.5 569.2L1050.5 578.4L1051 576.1L1051 567.6L1051.5 569.7L1051.5 581.4L1052 578.4L1052 568.7L1052.5 570.2L1052.5 579.7L1053 578.3L1053 570L1053.5 570L1053.5 581.5L1054 580.3L1054 572L1054.5 571L1054.5 581.6L1055 583.6L1055 572.8L1055.5 571.9L1055.5 580.1L1056 580.2L1056 573.4L1056.5 573.2L1056.5 582L1057 580.7L1057 570.9L1057.5 572.3L1057.5 581.5L1058 581.9L1058 573.4L1058.5 573.5L1058.5 581.7L1059 579.4L1059 571.9L1059.5 573.4L1059.5 582.5L1060 581.8L1060 572.8L1060.5 570.5L1060.5 581.1L1061 581.6L1061 572.5L1061.5 572.4L1061.5 580.7L1062 579.3L1062 571.5L1062.5 570.6L1062.5 583.6L1063 579.1L1063 571.7L1063.5 572.9L1063.5 580.5L1064 581.6L1064 572.8L1064.5 572L1064.5 581L1065 579.6L1065 572.5L1065.5 572.1L1065.5 581.4L1066 580.8L1066 571.7L1066.5 572.7L1066.5 582.6L1067 582.3L1067 573.8L1067.5 572.7L1067.5 581.4L1068 581.9L1068 571L1068.5 573.1L1068.5 581L1069 581.6L1069 571.5L1069.5 571.8L1069.5 580.7L1070 581.7L1070 573.9L1070.5 568.9L1070.5 583.6L1071 580.6L1071 574.3L1071.5 572.1L1071.5 581L1072 582.3L1072 571.7L1072.5 572.2L1072.5 581.3L1073 580.5L1073 572.3L1073.5 572.8L1073.5 582L1074 581L1074 571.9L1074.5 573.3L1074.5 582.8L1075 581.3L1075 567.4L1075.5 570.6L1075.5 581.2L1076 580.6L1076 571.6L1076.5 571.8L1076.5 580.2L1077 579.8L1077 570.3L1077.5 570.8L1077.5 580.2L1078 581.9L1078 573L1078.5 571.3L1078.5 582L1079 579L1079 573.1L1079.5 570.3L1079.5 580.8L1080 581.5L1080 567.2L1080.5 572.2L1080.5 582"/>
<path stroke-linecap="butt" d="M527.2 593L964.1 589"/>
<path stroke-linecap="square" d="M171 538.5V590M171.7 538.5V590M412.3 652V700M413.2 652V700M417.1 234V700M417.6 234V700M418 236V700M418.4 396V700M419.4 510V700M420 560V700M420.8 626V700M421.6 658V700M527.1 593.8V634M964.1 548V588.8"/>
</g>
</g>
<g class="ticks">
<line x1="150.5" y1="712.5" x2="150.5" y2="717.6"/>
<line x1="266.5" y1="712.5" x2="266.5" y2="717.6"/>
<line x1="383.5" y1="712.5" x2="383.5" y2="717.6"/>
<line x1="499.5" y1="712.5" x2="499.5" y2="717.6"/>
<line x1="615.5" y1="712.5" x2="615.5" y2="717.6"/>
<line x1="731.5" y1="712.5" x2="731.5" y2="717.6"/>
<line x1="848.5" y1="712.5" x2="848.5" y2="717.6"/>
<line x1="964.5" y1="712.5" x2="964.5" y2="717.6"/>
<line x1="1080.5" y1="712.5" x2="1080.5" y2="717.6"/>
<line x1="145.3" y1="712.5" x2="150.5" y2="712.5"/>
<line x1="145.3" y1="624.5" x2="150.5" y2="624.5"/>
<line x1="145.3" y1="536.5" x2="150.5" y2="536.5"/>
<line x1="145.3" y1="448.5" x2="150.5" y2="448.5"/>
<line x1="145.3" y1="360.5" x2="150.5" y2="360.5"/>
<line x1="145.3" y1="272.5" x2="150.5" y2="272.5"/>
<line x1="145.3" y1="184.5" x2="150.5" y2="184.5"/>
<line x1="145.3" y1="96.5" x2="150.5" y2="96.5"/>
</g>
<rect x="150.5" y="96.5" width="930" height="616" fill="none" stroke="#000" stroke-width="1.08"/>
<g class="tick">
<text x="150.00" y="739.7" text-anchor="middle">0</text>
<text x="266.25" y="739.7" text-anchor="middle">3</text>
<text x="382.50" y="739.7" text-anchor="middle">6</text>
<text x="498.75" y="739.7" text-anchor="middle">9</text>
<text x="615.00" y="739.7" text-anchor="middle">12</text>
<text x="731.25" y="739.7" text-anchor="middle">15</text>
<text x="847.50" y="739.7" text-anchor="middle">18</text>
<text x="963.75" y="739.7" text-anchor="middle">21</text>
<text x="1080.00" y="739.7" text-anchor="middle">24</text>
<text x="140.3" y="720.50" text-anchor="end">0</text>
<text x="140.3" y="632.50" text-anchor="end">2</text>
<text x="140.3" y="544.50" text-anchor="end">4</text>
<text x="140.3" y="456.50" text-anchor="end">6</text>
<text x="140.3" y="368.50" text-anchor="end">8</text>
<text x="140.3" y="280.50" text-anchor="end">10</text>
<text x="140.3" y="192.50" text-anchor="end">12</text>
<text x="140.3" y="104.50" text-anchor="end">14</text>
</g>
<text class="lab" x="615" y="87.6" text-anchor="middle">Australia-ASSA of 2026/02/25 with focus code = 63</text>
<text class="lab" x="615" y="765.5" text-anchor="middle">Universal Time [h]</text>
<text class="lab" transform="translate(100.9 405.1) rotate(-90)" text-anchor="middle">Y-factor [dB]</text>
<g class="legend">
<rect x="918.8" y="104.5" width="153.6" height="75" rx="3.3" ry="3.3" fill="#ffffff" fill-opacity="0.8" stroke="#cccccc" stroke-width="1.39"/>
<line x1="924.2" y1="117.00" x2="958.2" y2="117.00" stroke="#0000ff" stroke-width="2.08" stroke-linecap="square"/>
<text class="leg" x="981.4" y="122.90">25.6 MHz</text>
<line x1="924.2" y1="140.55" x2="958.2" y2="140.55" stroke="#008000" stroke-width="2.08" stroke-linecap="square"/>
<text class="leg" x="981.4" y="146.45">48.2 MHz</text>
<line x1="924.2" y1="164.10" x2="958.2" y2="164.10" stroke="#ff0000" stroke-width="2.08" stroke-linecap="square"/>
<text class="leg" x="981.4" y="170.00">74.6 MHz</text>
</g>
</svg>
</body>
</html>
